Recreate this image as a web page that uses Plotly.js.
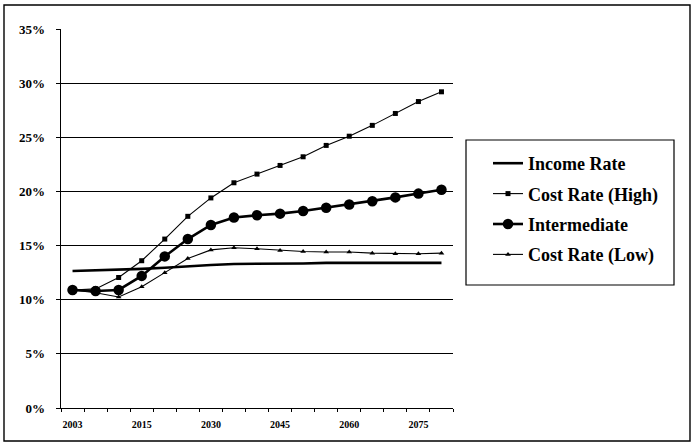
<!DOCTYPE html>
<html>
<head>
<meta charset="utf-8">
<script src="https://cdn.plot.ly/plotly-3.0.1.min.js"></script>
<style>
  html, body { margin: 0; padding: 0; background: #fff; }
  #chart { width: 692px; height: 447px; }
</style>
</head>
<body>
<div id="chart"></div>
<script>
// Projection years (category positions on the x axis)
const years = [2003, 2005, 2010, 2015, 2020, 2025, 2030, 2035, 2040,
               2045, 2050, 2055, 2060, 2065, 2070, 2075, 2080];

// Rates as percent of payroll
const incomeRate   = [12.65, 12.7, 12.75, 12.85, 12.95, 13.1, 13.2, 13.3, 13.3,
                      13.35, 13.35, 13.4, 13.4, 13.4, 13.4, 13.4, 13.4];
const costHigh     = [10.9, 11.0, 12.05, 13.6, 15.6, 17.7, 19.4, 20.8, 21.6,
                      22.4, 23.2, 24.25, 25.1, 26.1, 27.2, 28.3, 29.2];
const intermediate = [10.9, 10.8, 10.9, 12.2, 14.0, 15.6, 16.9, 17.6, 17.8,
                      17.95, 18.2, 18.5, 18.8, 19.1, 19.45, 19.8, 20.15];
const costLow      = [10.9, 10.65, 10.25, 11.2, 12.5, 13.8, 14.6, 14.8, 14.7,
                      14.55, 14.45, 14.4, 14.4, 14.3, 14.25, 14.25, 14.3];

// Every third year is labelled on the axis
const labelYears = [2003, 2015, 2030, 2045, 2060, 2075];

const idx = years.map((_, i) => i);
const pct = arr => arr.map(v => v / 100);
const labelPos = labelYears.map(y => years.indexOf(y));
const boundaries = years.map((_, i) => i - 0.5).concat([years.length - 0.5]);

const serif = "'Liberation Serif', 'Times New Roman', Times, serif";

const traces = [
  { name: 'Income Rate', x: idx, y: pct(incomeRate), mode: 'lines',
    line: { color: '#000', width: 2.6 }, legendgroup: 'a' },
  { name: 'Cost Rate (High)', x: idx, y: pct(costHigh), mode: 'lines+markers',
    line: { color: '#000', width: 1.1 },
    marker: { symbol: 'square', size: 5, color: '#000' }, legendgroup: 'b' },
  { name: 'Intermediate', x: idx, y: pct(intermediate), mode: 'lines+markers',
    line: { color: '#000', width: 2.6 },
    marker: { symbol: 'circle', size: 10.5, color: '#000' }, legendgroup: 'c' },
  { name: 'Cost Rate (Low)', x: idx, y: pct(costLow), mode: 'lines+markers',
    line: { color: '#000', width: 1.1 },
    marker: { symbol: 'triangle-up', size: 5, color: '#000' }, legendgroup: 'd' }
];

const W = 392, H = 379, L = 61, T = 29; // plot area in pixels
const px = x => (x - L) / W;
const py = y => (T + H - y) / H;

const layout = {
  width: 692, height: 447,
  margin: { l: L, r: 692 - L - W, t: T, b: 447 - T - H },
  paper_bgcolor: '#fff', plot_bgcolor: '#fff',
  showlegend: true,
  font: { family: serif, color: '#000' },
  xaxis: {
    type: 'linear', range: [-0.5, years.length - 0.5],
    tickmode: 'array', tickvals: labelPos, ticktext: labelYears.map(String),
    ticks: '', showgrid: false, zeroline: false,
    showline: true, linecolor: '#000', linewidth: 1.3,
    ticklabelstandoff: 7,
    tickfont: { family: serif, size: 10, weight: 'bold', color: '#000' },
    minor: { tickmode: 'array', tickvals: boundaries, ticks: 'outside',
             ticklen: 3, tickwidth: 1, tickcolor: '#000', showgrid: false }
  },
  yaxis: {
    range: [0, 0.35], tickmode: 'linear', tick0: 0, dtick: 0.05,
    tickformat: '.0%', ticks: 'outside', ticklen: 4, tickwidth: 1,
    tickcolor: '#000', showgrid: true, gridcolor: '#000', gridwidth: 1.2,
    zeroline: false, showline: true, linecolor: '#000', linewidth: 1.3,
    ticklabelstandoff: 8,
    tickfont: { family: serif, size: 13, weight: 'bold', color: '#000' }
  },
  legend: {
    x: px(488), y: py(145), xanchor: 'left', yanchor: 'top',
    bgcolor: 'rgba(0,0,0,0)', borderwidth: 0,
    tracegroupgap: 4,
    font: { family: serif, size: 18, weight: 'bold', color: '#000' }
  },
  shapes: [
    // legend frame
    { type: 'rect', xref: 'paper', yref: 'paper',
      x0: px(466), x1: px(674), y0: py(285), y1: py(140),
      line: { color: '#000', width: 1.2 }, fillcolor: 'rgba(0,0,0,0)' },
    // chart frame
    { type: 'rect', xref: 'paper', yref: 'paper',
      x0: px(4), x1: px(690), y0: py(441), y1: py(5),
      line: { color: '#000', width: 1.4 }, fillcolor: 'rgba(0,0,0,0)' }
  ]
};

Plotly.newPlot('chart', traces, layout, { displayModeBar: false, staticPlot: true });
</script>
</body>
</html>
